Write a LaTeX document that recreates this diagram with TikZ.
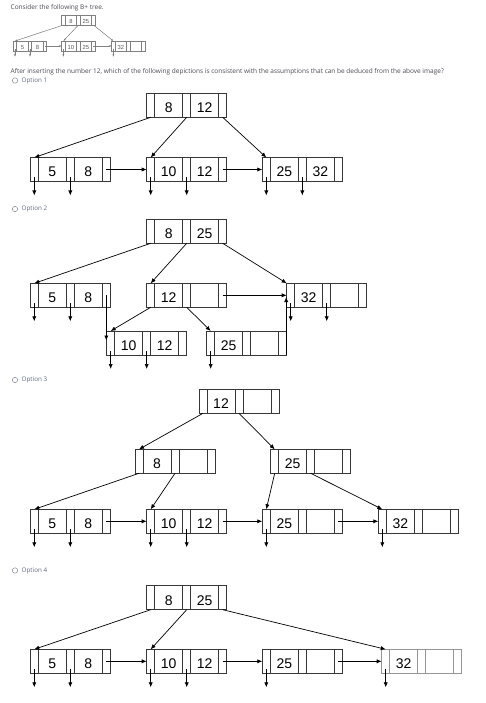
\documentclass[tikz,border=0pt]{standalone}
\usepackage{fontspec}
\setmainfont{Liberation Sans}
\newfontfamily\uifont{Open Sans}
\usetikzlibrary{arrows.meta}
\definecolor{qtext}{RGB}{75,75,85}
\definecolor{otext}{RGB}{95,105,130}
\definecolor{boxc}{RGB}{55,55,55}
\definecolor{lightbox}{RGB}{150,150,150}
\tikzset{
  bpbox/.style={draw=boxc, line width=0.7pt, inner sep=0pt, outer sep=0pt, rectangle},
  bpline/.style={draw=boxc, line width=0.7pt},
  key/.style={inner sep=0pt, outer sep=0pt, text=black},
  arr/.style={line width=0.7pt, -{Latex[length=5pt,width=4.2pt]}},
  sarr/.style={line width=0.45pt, draw=gray, -{Latex[length=2.4pt,width=2pt]}, fill=gray},
  qlabel/.style={inner sep=0pt, anchor=west, text=qtext, font=\uifont\fontsize{6.5}{7.5}\selectfont},
  olabel/.style={inner sep=0pt, anchor=west, text=otext, font=\uifont\fontsize{6.3}{7.5}\selectfont},
  radio/.style={circle, draw=otext!80, line width=0.5pt, minimum size=5.4pt, inner sep=0pt},
}
% #1 name, #2 left x, #3 top y, #4 key1, #5 key2, #6 scale, #7 line colour, #8 text colour
\newcommand\BP[8]{%
  \pgfmathsetmacro\bpw{80*#6}%
  \pgfmathsetmacro\bph{24*#6}%
  \pgfmathsetmacro\bpf{14*#6}%
  \pgfmathsetmacro\bplw{0.7*(0.4+0.6*#6)}%
  \node[bpbox, draw=#7, line width=\bplw pt, minimum width=\bpw pt, minimum height=\bph pt, anchor=north west] (#1) at (#2,#3) {};
  \foreach \d in {8,36,44,72}
    \draw[bpline, draw=#7, line width=\bplw pt] (#2+\d*#6,#3) -- (#2+\d*#6,#3+24*#6);
  \node[key, font=\fontsize{\bpf}{\bpf}\selectfont, text=#8] (#1-k1) at (#2+22*#6,#3+14.5*#6) {#4};
  \node[key, font=\fontsize{\bpf}{\bpf}\selectfont, text=#8] (#1-k2) at (#2+58*#6,#3+14.5*#6) {#5};
  \foreach \i/\px in {0/4,1/40,2/76} {
    \coordinate (#1-p\i) at (#2+\px*#6,#3+12*#6);
    \coordinate (#1-t\i) at (#2+\px*#6,#3);
    \coordinate (#1-b\i) at (#2+\px*#6,#3+24*#6);
    \coordinate (#1-q\i) at (#2+\px*#6,#3+20*#6);
    \coordinate (#1-e\i) at (#2+\px*#6,#3+38*#6);
  }%
}
\begin{document}
\begin{tikzpicture}[x=1pt,y=-1pt]
\useasboundingbox (0,0) rectangle (486,703);
\fill[white] (0,0) rectangle (486,703);

% ---------- header ----------
\node[qlabel] (q1) at (10.5,7.5) {Consider the following B+ tree.};
\BP{S}{61.7}{15}{8}{25}{0.417}{gray}{gray!70!black}
\BP{Sa}{13.3}{41}{5}{8}{0.417}{gray}{gray!70!black}
\BP{Sb}{61.7}{41}{10}{25}{0.417}{gray}{gray!70!black}
\BP{Sc}{111.7}{41}{32}{}{0.417}{gray}{gray!70!black}
\draw[sarr] (S-b0) -- (Sa-t0);
\draw[sarr] (S-b1) -- (Sb-t0);
\draw[sarr] (S-b2) -- (Sc-t0);
\draw[sarr] (Sa-p2) -- (Sb.west);
\draw[sarr] (Sb-p2) -- (Sc.west);
\draw[sarr] (Sa-q0) -- (Sa-e0);
\draw[sarr] (Sa-q1) -- (Sa-e1);
\draw[sarr] (Sb-q0) -- (Sb-e0);
\draw[sarr] (Sc-q0) -- (Sc-e0);

\node[qlabel] (q2) at (10.5,71.5) {After inserting the number 12, which of the following depictions is consistent with the assumptions that can be deduced from the above image?};

% ---------- Option 1 ----------
\node[radio] (r1) at (15,80.5) {};
\node[olabel] (o1) at (21.5,80.5) {Option 1};
\BP{AR}{146.7}{93.3}{8}{12}{1}{boxc}{black}
\BP{A1}{30.3}{157.5}{5}{8}{1}{boxc}{black}
\BP{A2}{146.7}{157.5}{10}{12}{1}{boxc}{black}
\BP{A3}{262.3}{157.5}{25}{32}{1}{boxc}{black}
\draw[arr] (AR-b0) -- (A1-t0);
\draw[arr] (AR-b1) -- (A2-t0);
\draw[arr] (AR-b2) -- (A3-t0);
\draw[arr] (A1-p2) -- (A2.west);
\draw[arr] (A2-p2) -- (A3.west);
\draw[arr] (A1-q0) -- (A1-e0);
\draw[arr] (A1-q1) -- (A1-e1);
\draw[arr] (A2-q0) -- (A2-e0);
\draw[arr] (A2-q1) -- (A2-e1);
\draw[arr] (A3-q0) -- (A3-e0);
\draw[arr] (A3-q1) -- (A3-e1);

% ---------- Option 2 ----------
\node[radio] (r2) at (15,209) {};
\node[olabel] (o2) at (21.5,209) {Option 2};
\BP{BR}{146.7}{219.3}{8}{25}{1}{boxc}{black}
\BP{B1}{30.3}{283.3}{5}{8}{1}{boxc}{black}
\BP{B2}{146.7}{283.3}{12}{}{1}{boxc}{black}
\BP{B3}{286.7}{283.3}{32}{}{1}{boxc}{black}
\BP{B4}{106.7}{331}{10}{12}{1}{boxc}{black}
\BP{B5}{206.7}{331}{25}{}{1}{boxc}{black}
\draw[arr] (BR-b0) -- (B1-t0);
\draw[arr] (BR-b1) -- (B2-t0);
\draw[arr] (BR-b2) -- (B3.north west);
\draw[arr] (B2-b0) -- (B4-t0);
\draw[arr] (B2-b1) -- (B5-t0);
\draw[arr] (B2-p2) -- (B3.west);
\coordinate (B1x) at (106.3,340.5);
\draw[arr] (B1-p2) -- (B1x);
\coordinate (B5x) at (286.2,297);
\coordinate (B5y) at (286.2,355);
\draw[arr] (B5y) -- (B5x);
\draw[arr] (B1-q0) -- (B1-e0);
\draw[arr] (B1-q1) -- (B1-e1);
\draw[arr] (B3-q0) -- (B3-e0);
\draw[arr] (B3-q1) -- (B3-e1);
\draw[arr] (B4-q0) -- (B4-e0);
\draw[arr] (B4-q1) -- (B4-e1);
\draw[arr] (B5-q0) -- (B5-e0);

% ---------- Option 3 ----------
\node[radio] (r3) at (15,380) {};
\node[olabel] (o3) at (21.5,380) {Option 3};
\BP{CR}{199}{389.3}{12}{}{1}{boxc}{black}
\BP{Ca}{135}{449.3}{8}{}{1}{boxc}{black}
\BP{Cb}{270.7}{449.3}{25}{}{1}{boxc}{black}
\BP{C1}{30.3}{509.3}{5}{8}{1}{boxc}{black}
\BP{C2}{146.7}{509.3}{10}{12}{1}{boxc}{black}
\BP{C3}{262.3}{509.3}{25}{}{1}{boxc}{black}
\BP{C4}{378.3}{509.3}{32}{}{1}{boxc}{black}
\draw[arr] (CR-b0) -- (Ca-t0);
\draw[arr] (CR-b1) -- (Cb-t0);
\draw[arr] (Ca-b0) -- (C1-t0);
\draw[arr] (Ca-b1) -- (C2-t0);
\draw[arr] (Cb-b0) -- (C3-t0);
\draw[arr] (Cb-b1) -- (C4-t0);
\draw[arr] (C1-p2) -- (C2.west);
\draw[arr] (C2-p2) -- (C3.west);
\draw[arr] (C3-p2) -- (C4.west);
\draw[arr] (C1-q0) -- (C1-e0);
\draw[arr] (C1-q1) -- (C1-e1);
\draw[arr] (C2-q0) -- (C2-e0);
\draw[arr] (C2-q1) -- (C2-e1);
\draw[arr] (C3-q0) -- (C3-e0);
\draw[arr] (C4-q0) -- (C4-e0);

% ---------- Option 4 ----------
\node[radio] (r4) at (15,570.5) {};
\node[olabel] (o4) at (21.5,570.5) {Option 4};
\BP{DR}{146.7}{585.7}{8}{25}{1}{boxc}{black}
\BP{D1}{30.3}{649.3}{5}{8}{1}{boxc}{black}
\BP{D2}{146.7}{649.3}{10}{12}{1}{boxc}{black}
\BP{D3}{262.3}{649.3}{25}{}{1}{boxc}{black}
\BP{D4}{381.7}{649.3}{32}{}{1}{lightbox}{black}
\draw[arr] (DR-b0) -- (D1-t0);
\draw[arr] (DR-b1) -- (D2-t0);
\draw[arr] (DR-b2) -- (D4-t0);
\draw[arr] (D1-p2) -- (D2.west);
\draw[arr] (D2-p2) -- (D3.west);
\draw[arr] (D3-p2) -- (D4.west);
\draw[arr] (D1-q0) -- (D1-e0);
\draw[arr] (D1-q1) -- (D1-e1);
\draw[arr] (D2-q0) -- (D2-e0);
\draw[arr] (D2-q1) -- (D2-e1);
\draw[arr] (D3-q0) -- (D3-e0);
\draw[arr] (D4-q0) -- (D4-e0);
\end{tikzpicture}
\end{document}
